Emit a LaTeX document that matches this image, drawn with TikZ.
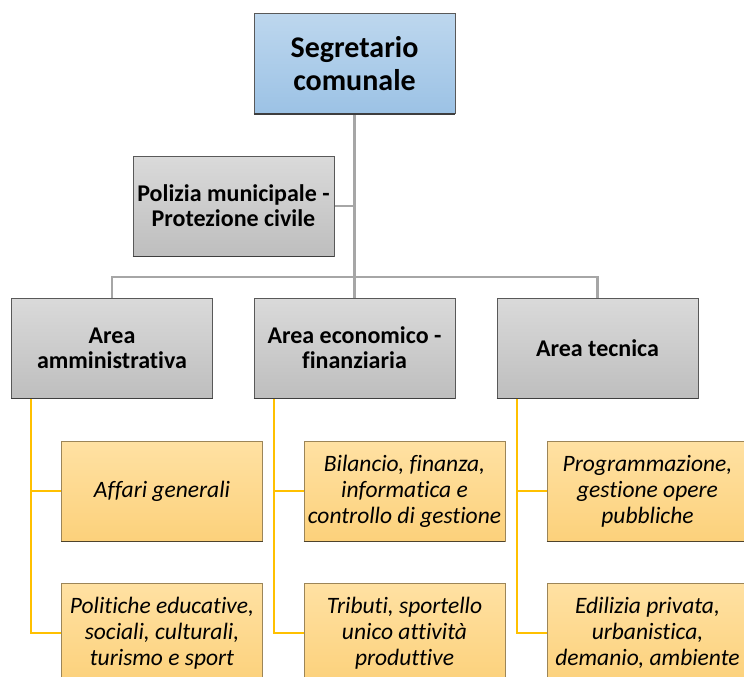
\documentclass[tikz,border=0pt]{standalone}
\usepackage{fontspec}
\setmainfont{Carlito}[Ligatures=NoCommon]

\definecolor{bluetop}{HTML}{BDD7EE}
\definecolor{bluebot}{HTML}{9CC2E5}
\definecolor{graytop}{HTML}{DADADA}
\definecolor{graybot}{HTML}{BEBEBE}
\definecolor{orangetop}{HTML}{FFE1A3}
\definecolor{orangebot}{HTML}{FCD17B}
\definecolor{boxline}{HTML}{595959}
\definecolor{unitline}{HTML}{9C8558}
\definecolor{linkgray}{HTML}{A6A6A6}
\definecolor{linkorange}{HTML}{FFC000}

\begin{document}
\begin{tikzpicture}[x=1pt,y=-1pt,
  box/.style={draw=boxline,line width=0.6pt,minimum width=201pt,minimum height=100pt,
    inner sep=1pt,align=center},
  headbox/.style={box,top color=bluetop,bottom color=bluebot,
    font=\bfseries\fontsize{30}{33}\selectfont},
  areabox/.style={box,top color=graytop,bottom color=graybot,
    font=\bfseries\fontsize{24}{25}\selectfont},
  unitbox/.style={box,draw=unitline,top color=orangetop,bottom color=orangebot,
    font=\itshape\fontsize{23.5}{26}\selectfont},
  graylink/.style={draw=linkgray,line width=2.2pt},
  orangelink/.style={draw=linkorange,line width=2pt}]
  \useasboundingbox (0,0) rectangle (744,677);
  \clip (0,0) rectangle (744,677);

  % connectors first, boxes on top
  \coordinate (seghead) at (354.5,114);
  \draw[graylink] (seghead) -- (354.5,298);
  \draw[graylink] (233.5,206) -- (354.5,206);
  \draw[graylink] (112,298) -- (112,277) -- (597.5,277) -- (597.5,298);

  \node[headbox] (seg) at (354.5,63.5) {Segretario\\comunale};
  \node[areabox] (pol) at (233.5,206) {Polizia municipale -\\Protezione civile};

  \node[areabox] (amm) at (112,348) {Area\\amministrativa};
  \node[areabox] (eco) at (354.5,348) {Area economico -\\finanziaria};
  \node[areabox] (tec) at (597.5,348) {Area tecnica};

  \node[unitbox] (amm1) at (162,491) {Affari generali};
  \node[unitbox] (amm2) at (162,633) {Politiche educative,\\sociali, culturali,\\turismo e sport};
  \node[unitbox] (eco1) at (404.5,491) {Bilancio, finanza,\\informatica e\\controllo di gestione};
  \node[unitbox] (eco2) at (404.5,633) {Tributi, sportello\\unico attività\\produttive};
  \node[unitbox] (tec1) at (647.5,491) {Programmazione,\\gestione opere\\pubbliche};
  \node[unitbox] (tec2) at (647.5,633) {Edilizia privata,\\urbanistica,\\demanio, ambiente};

  \foreach \a in {amm,eco,tec}{
    \draw[orangelink] ([xshift=20pt]\a.south west) |- (\a1.west);
    \draw[orangelink] ([xshift=20pt]\a.south west) |- (\a2.west);
  }

  % darker bottom edge
  \foreach \n in {seg,pol,amm,eco,tec}
    \draw[boxline!70!black,line width=1.6pt] (\n.south west) -- (\n.south east);
  \foreach \n in {amm1,amm2,eco1,eco2,tec1,tec2}
    \draw[unitline!50!black,line width=1.4pt] (\n.south west) -- (\n.south east);
\end{tikzpicture}
\end{document}
